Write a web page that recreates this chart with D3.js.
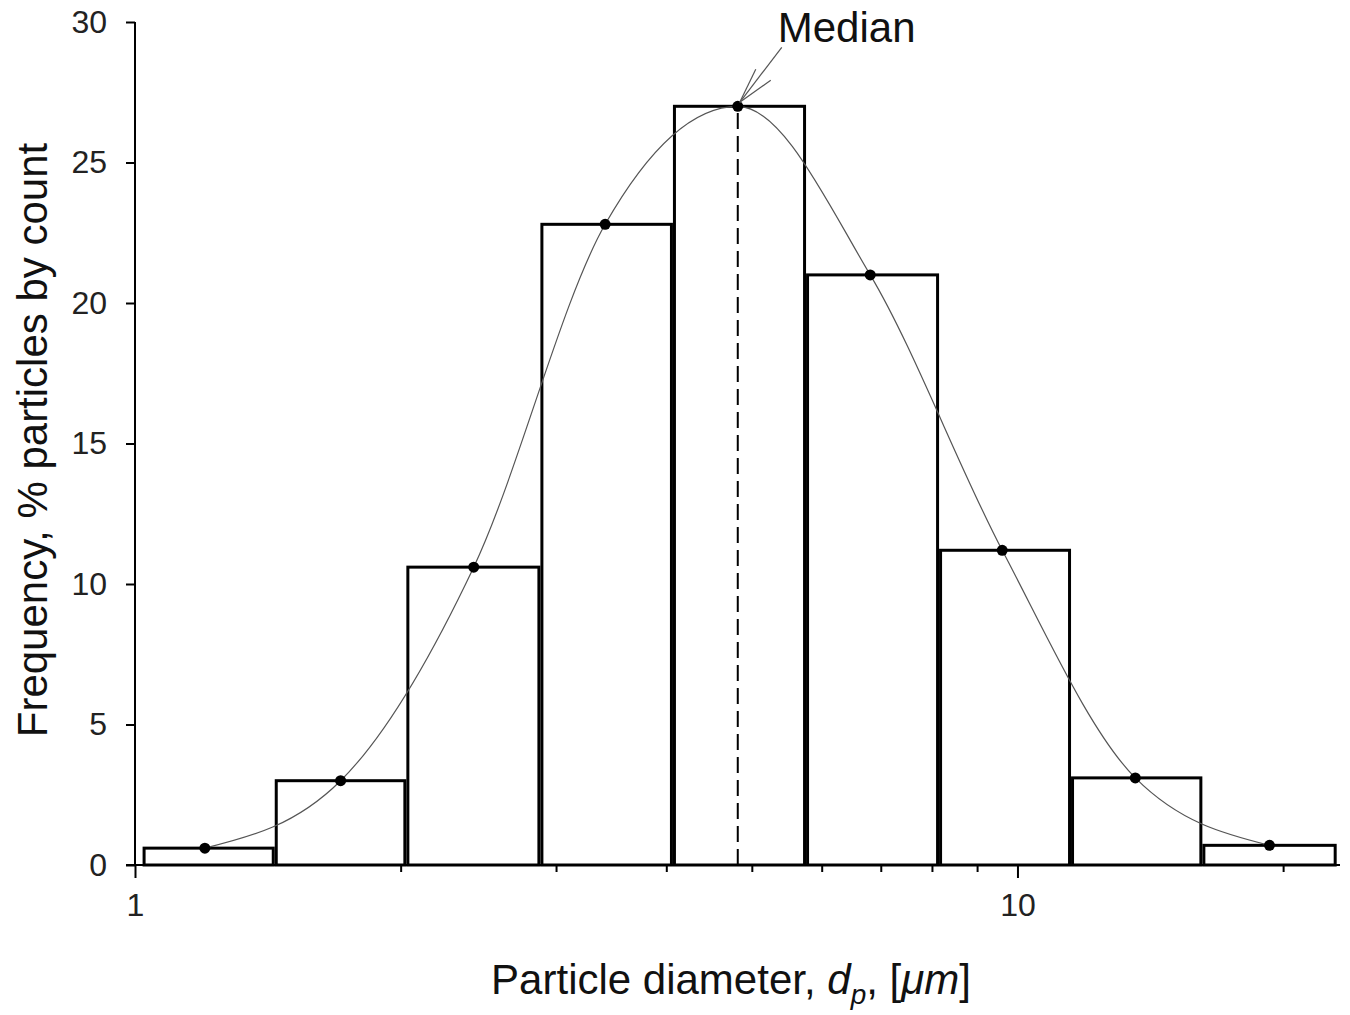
<!DOCTYPE html>
<html>
<head>
<meta charset="utf-8">
<script src="https://cdn.jsdelivr.net/npm/d3@7"></script>
<style>
  html, body { margin: 0; padding: 0; background: #fff; }
  svg { display: block; font-family: "Liberation Sans", Arial, sans-serif; }
</style>
</head>
<body>
<svg id="chart" width="1350" height="1015"></svg>
<script>
// ---- data ----
const binEdges = [1.02, 1.44, 2.03, 2.88, 4.07, 5.76, 8.15, 11.5, 16.2, 23.0];
const binFreq = [0.6, 3.0, 10.6, 22.8, 27.0, 21.0, 11.2, 3.1, 0.7];
const pointDiam = [1.2, 1.71, 2.42, 3.41, 4.82, 6.81, 9.61, 13.6, 19.3];
const pointFreq = [0.6, 3.0, 10.6, 22.8, 27.0, 21.0, 11.2, 3.1, 0.7];
const medianDiam = 4.82;
const medianFreq = 27.0;
const yTicks = [0, 5, 10, 15, 20, 25, 30];
const xMajorTicks = [1, 10];
const xMinorTicks = [2, 3, 4, 5, 6, 7, 8, 9, 20];
const xTickLabels = ["1", "10"];
const xTitle = "Particle diameter, ";
const yTitle = "Frequency, % particles by count";
const medianLabel = "Median";

// ---- scales ----
const svg = d3.select("#chart");
const x = d3.scaleLog().domain([1, 23.2]).range([135, 1340]);
const y = d3.scaleLinear().domain([0, 30]).range([865, 22]);

// ---- bars ----
const bins = binFreq.map((v, i) => ({lo: binEdges[i], hi: binEdges[i + 1], v}));
svg.append("g").selectAll("rect").data(bins).join("rect")
  .attr("x", d => x(d.lo) + 1.5)
  .attr("width", d => x(d.hi) - x(d.lo) - 3)
  .attr("y", d => y(d.v))
  .attr("height", d => y(0) - y(d.v))
  .attr("fill", "#fff")
  .attr("stroke", "#000")
  .attr("stroke-width", 3);

// ---- median dashed line ----
svg.append("line")
  .attr("x1", x(medianDiam)).attr("x2", x(medianDiam))
  .attr("y1", y(0)).attr("y2", y(medianFreq))
  .attr("stroke", "#000").attr("stroke-width", 2)
  .attr("stroke-dasharray", "16,7");

// ---- smooth curve ----
const pts = pointDiam.map((d, i) => [d, pointFreq[i]]);
svg.append("path")
  .datum(pts)
  .attr("d", d3.line().x(d => x(d[0])).y(d => y(d[1])).curve(d3.curveMonotoneX))
  .attr("fill", "none").attr("stroke", "#555").attr("stroke-width", 1.2);

svg.append("g").selectAll("circle").data(pts).join("circle")
  .attr("cx", d => x(d[0])).attr("cy", d => y(d[1])).attr("r", 5.5)
  .attr("fill", "#000");

// ---- axes ----
const yAxis = d3.axisLeft(y).tickValues(yTicks).tickSize(9).tickPadding(19).tickFormat(d3.format("d"));
const gy = svg.append("g").attr("transform", `translate(${x(1)},0)`).call(yAxis);
gy.select(".domain").attr("stroke-width", 2).attr("d", `M0,${y(30)}V${y(0)}`);
gy.selectAll(".tick line").attr("stroke-width", 2);
gy.selectAll(".tick text").attr("font-size", 32).attr("fill", "#222")
  .attr("font-family", "Liberation Sans, Arial, sans-serif");

const allXTicks = xMajorTicks.concat(xMinorTicks).sort((a, b) => a - b);
const xAxis = d3.axisBottom(x).tickValues(allXTicks).tickSize(7).tickPadding(8)
  .tickFormat(d => { const i = xMajorTicks.indexOf(d); return i >= 0 ? xTickLabels[i] : ""; });
const gx = svg.append("g").attr("transform", `translate(0,${y(0)})`).call(xAxis);
gx.select(".domain").attr("stroke-width", 2).attr("d", `M${x(1) - 9},0H${x.range()[1]}`);
gx.selectAll(".tick line").attr("stroke-width", 2)
  .attr("y2", d => xMajorTicks.includes(d) ? 13 : 7);
gx.selectAll(".tick text").attr("font-size", 32).attr("fill", "#222")
  .attr("dy", null).attr("y", 51)
  .attr("font-family", "Liberation Sans, Arial, sans-serif");

// ---- titles ----
const xt = svg.append("text")
  .attr("x", 731).attr("y", 994)
  .attr("text-anchor", "middle").attr("font-size", 42).attr("fill", "#111");
xt.append("tspan").text(xTitle);
xt.append("tspan").attr("font-style", "italic").text("d");
xt.append("tspan").attr("font-style", "italic").attr("font-size", 28).attr("dy", 10).text("p");
xt.append("tspan").attr("dy", -10).text(", [");
xt.append("tspan").attr("font-style", "italic").text("\u03BCm");
xt.append("tspan").text("]");

svg.append("text")
  .attr("transform", `translate(47,${(140 + 740) / 2}) rotate(-90)`)
  .attr("text-anchor", "middle").attr("font-size", 42).attr("fill", "#111")
  .text(yTitle);

// ---- median annotation ----
const tipX = x(medianDiam) + 2, tipY = y(medianFreq) - 4;
const ann = svg.append("g").attr("stroke", "#555").attr("stroke-width", 1.2).attr("fill", "none");
ann.append("line").attr("x1", tipX).attr("y1", tipY).attr("x2", tipX + 42).attr("y2", tipY - 55);
ann.append("line").attr("x1", tipX).attr("y1", tipY).attr("x2", tipX + 16).attr("y2", tipY - 33);
ann.append("line").attr("x1", tipX).attr("y1", tipY).attr("x2", tipX + 31).attr("y2", tipY - 22);
svg.append("text")
  .attr("x", tipX + 38).attr("y", 42)
  .attr("font-size", 42).attr("fill", "#111")
  .text(medianLabel);
</script>
</body>
</html>
